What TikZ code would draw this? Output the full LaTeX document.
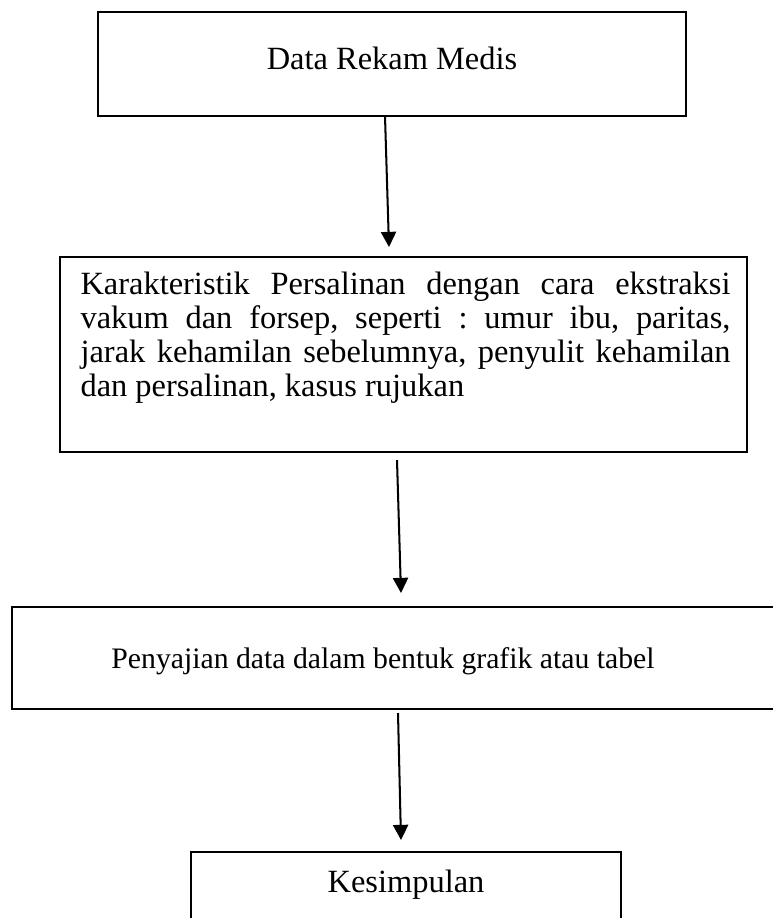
\documentclass[tikz,border=0pt]{standalone}
\usepackage{fontspec}
\setmainfont{Liberation Serif}
\usepackage{tikz}
\usetikzlibrary{arrows.meta}
\frenchspacing
\tikzstyle{every node}=[font=\fontsize{12pt}{12.6pt}\selectfont]
\tikzstyle{kotak}=[draw, line width=0.75pt, inner sep=0pt]
\tikzstyle{panah}=[-{Triangle[width=5.6pt,length=5.6pt]}, line width=0.75pt]

\begin{document}
\begin{tikzpicture}[x=0.37pt, y=-0.37pt]
        \useasboundingbox (0,0) rectangle (773,918);
        \clip (0,0) rectangle (773,918);

        \node [kotak, minimum width=217.6pt, minimum height=38.5pt, text depth=4.4pt] (rekam) at (392,64) {Data Rekam Medis};
        \node [kotak, minimum width=254.2pt, minimum height=72.2pt] (karakteristik) at (403.5,354.5) {};
        \node [anchor=north west, inner sep=0pt, text width=240.5pt, align=justify] (uraian) at (80,271)
            {\hyphenpenalty=10000 \tolerance=10000
             Karakteristik Persalinan dengan cara ekstraksi\linebreak
             vakum dan forsep, seperti : umur ibu, paritas,\linebreak
             jarak kehamilan sebelumnya, penyulit kehamilan\linebreak
             dan persalinan, kasus rujukan};
        \node [kotak, minimum width=282.7pt, minimum height=37.7pt] (penyajian) at (394,658) {};
        \node [anchor=base, font=\fontsize{11pt}{12pt}\selectfont] (sajian) at (383,668) {Penyajian data dalam bentuk grafik atau tabel};
        \node [kotak, anchor=north, minimum width=159.1pt, minimum height=40pt] (kesimpulan) at (406,851) {};
        \node [anchor=base] (simpulan) at (406,892) {Kesimpulan};

        \coordinate (a1) at (385,116);
        \coordinate (b1) at (389,247);
        \coordinate (a2) at (397,460);
        \coordinate (b2) at (401,593);
        \coordinate (a3) at (398,713);
        \coordinate (b3) at (401,840);

        \draw [panah] (a1) -- (b1);
        \draw [panah] (a2) -- (b2);
        \draw [panah] (a3) -- (b3);
    \end{tikzpicture}
\end{document}
